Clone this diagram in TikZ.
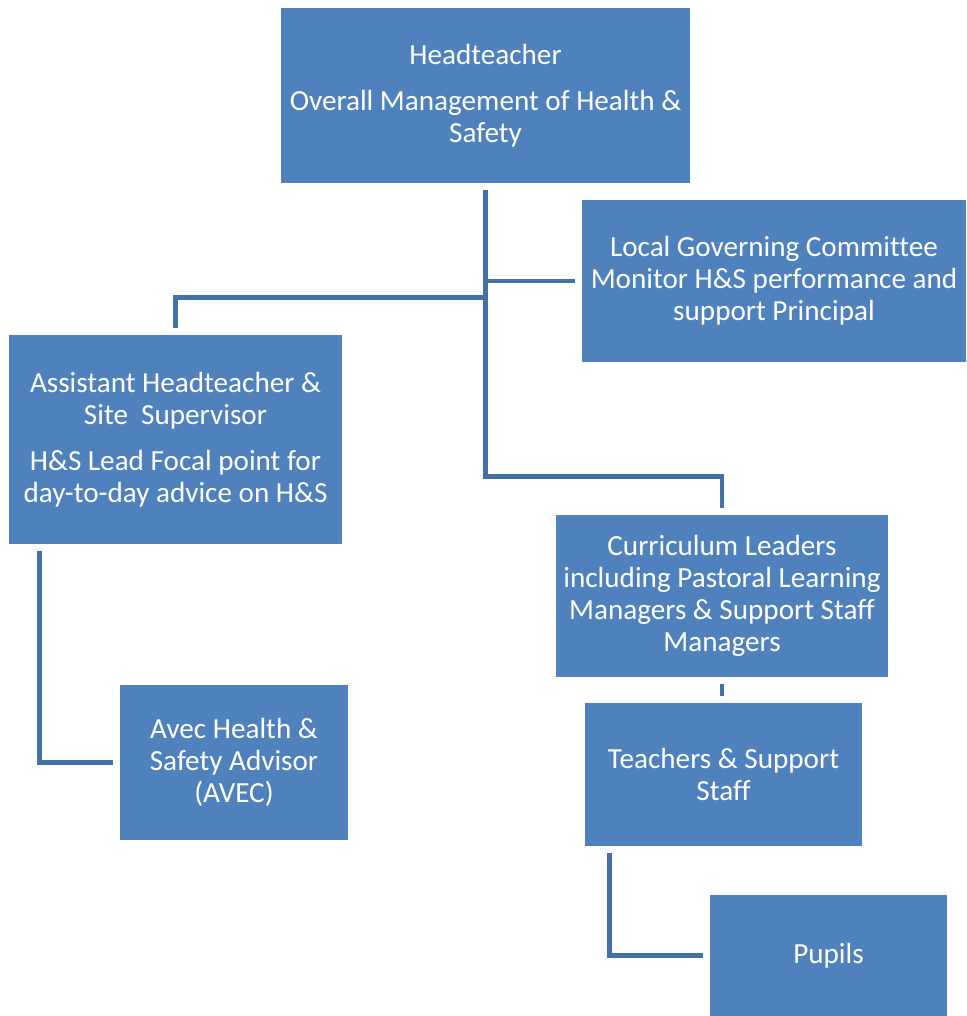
\documentclass[tikz,border=0pt]{standalone}
\usepackage{fontspec}
\setmainfont[Ligatures=NoCommon,RawFeature={-calt;-liga}]{Carlito}
\usepackage{tikz}
\definecolor{boxblue}{HTML}{4F81BD}
\definecolor{linkblue}{HTML}{4470A8}

\begin{document}
\begin{tikzpicture}[x=0.02cm,y=-0.02cm,
  role/.style={fill=boxblue,text=white,align=center,inner sep=0pt,
    font=\fontsize{16.6}{18.2}\selectfont},
  link/.style={draw=linkblue,line width=2.8pt,shorten <=0.13cm,shorten >=0.13cm}]
  \useasboundingbox (0,0) rectangle (966,1016);

  % boxes
  \node[role,minimum width=8.18cm,minimum height=3.5cm] (head) at (485.5,95.5)
    {Headteacher\\[8pt]Overall Management of Health \&\\Safety};
  \node[role,minimum width=7.68cm,minimum height=3.24cm] (lgc) at (774,281)
    {Local Governing Committee\\Monitor H\&S performance and\\support Principal};
  \node[role,minimum width=6.66cm,minimum height=4.18cm] (asst) at (175.5,439.5)
    {Assistant Headteacher \&\\Site\ \ Supervisor\\[8pt]H\&S Lead Focal point for\\day-to-day advice on H\&S};
  \node[role,minimum width=6.64cm,minimum height=3.24cm] (curr) at (722,596)
    {Curriculum Leaders\\including Pastoral Learning\\Managers \& Support Staff\\Managers};
  \node[role,minimum width=4.56cm,minimum height=3.1cm] (avec) at (234,762.5)
    {Avec Health \&\\Safety Advisor\\(AVEC)};
  \node[role,minimum width=5.54cm,minimum height=2.86cm] (staff) at (723.5,774.5)
    {Teachers \& Support\\Staff};
  \node[role,minimum width=4.74cm,minimum height=2.42cm] (pupils) at (828.5,955.5)
    {Pupils};

  % connectors
  \draw[link] (head.south) |- (lgc.west);
  \draw[link] (head.south) -- ++(0,114) -| (asst.north);
  \draw[link] (head.south) -- ++(0,293) -| (curr.north);
  \draw[link] (curr.south) -- (curr.south |- staff.north);
  \draw[link] ([xshift=0.62cm]asst.south west) |- (avec.west);
  \draw[link] ([xshift=0.5cm]staff.south west) |- (pupils.west);
\end{tikzpicture}
\end{document}
